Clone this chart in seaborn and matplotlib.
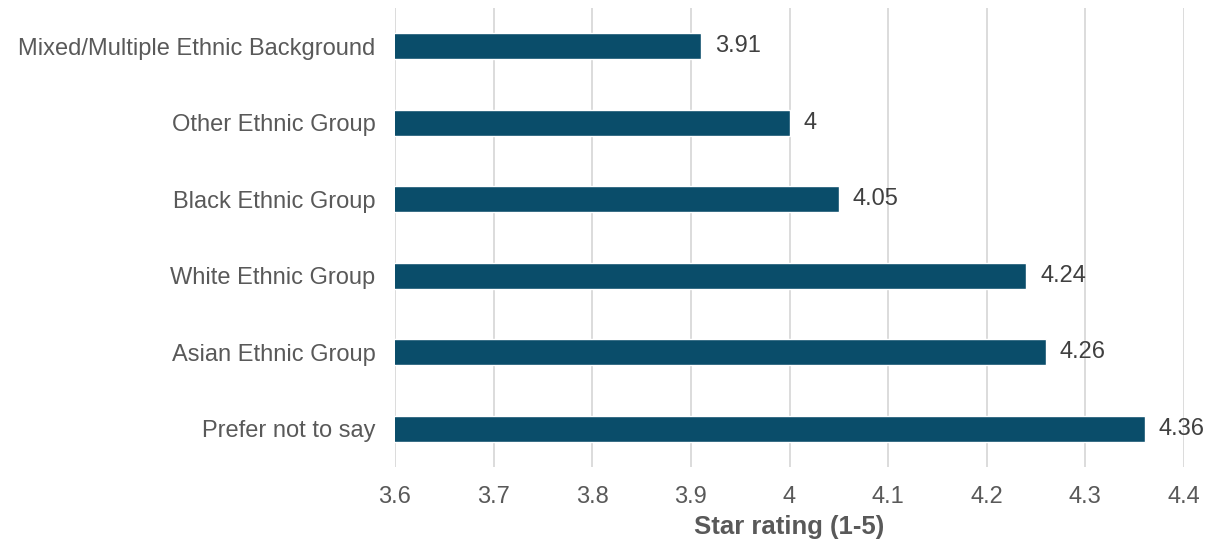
import matplotlib
matplotlib.use("Agg")
import matplotlib.pyplot as plt
import seaborn as sns
import pandas as pd

categories = ["Mixed/Multiple Ethnic Background", "Other Ethnic Group", "Black Ethnic Group",
              "White Ethnic Group", "Asian Ethnic Group", "Prefer not to say"]
ratings = [3.91, 4.00, 4.05, 4.24, 4.26, 4.36]
x_ticks = [3.6, 3.7, 3.8, 3.9, 4.0, 4.1, 4.2, 4.3, 4.4]
x_tick_labels = ["3.6", "3.7", "3.8", "3.9", "4", "4.1", "4.2", "4.3", "4.4"]

sns.set_theme(style="white")
plt.rcParams["font.family"] = ["Liberation Sans", "DejaVu Sans"]

df = pd.DataFrame({"category": categories, "rating": ratings})

fig = plt.figure(figsize=(12.09, 5.45), dpi=100)
ax = fig.add_axes([395/1209, 1 - 467/545, (1184 - 395)/1209, (467 - 8)/545])

sns.barplot(data=df, x="rating", y="category", orient="h", color="#0A4D6A",
            width=0.34, saturation=1, ax=ax)
ax.set_xlim(3.6, 4.4)
ax.set_xticks(x_ticks)
ax.set_xticklabels(x_tick_labels)
ax.xaxis.grid(True, color="#D9D9D9", linewidth=1.3)
ax.set_axisbelow(True)
for s in ax.spines.values():
    s.set_visible(False)
ax.tick_params(axis="both", length=0, labelsize=17, labelcolor="#595959")
ax.tick_params(axis="y", pad=14)
ax.tick_params(axis="x", pad=14)
ax.set_ylabel("")
ax.set_xlabel("Star rating (1-5)", fontsize=18.5, fontweight="bold", color="#595959", labelpad=5)

for cont in ax.containers:
    ax.bar_label(cont, labels=[f"{v:g}" for v in ratings], padding=10,
                 fontsize=17, color="#404040")

fig.savefig("out.png", dpi=100)
